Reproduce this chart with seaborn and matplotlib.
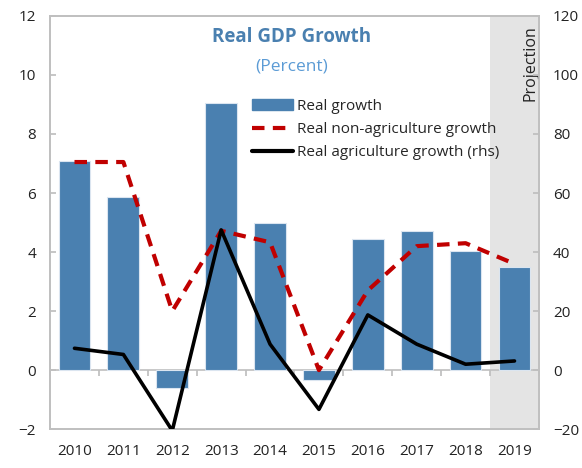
import numpy as np
import pandas as pd
import matplotlib
matplotlib.use("Agg")
import matplotlib.pyplot as plt
import seaborn as sns
from matplotlib.lines import Line2D
from matplotlib.patches import Patch

years = ["2010", "2011", "2012", "2013", "2014", "2015", "2016", "2017", "2018", "2019"]
real_growth = [7.1, 5.85, -0.6, 9.05, 5.0, -0.35, 4.45, 4.7, 4.03, 3.5]
non_agri_growth = [7.05, 7.05, 2.0, 4.72, 4.33, 0.0, 2.7, 4.2, 4.3, 3.6]
agri_growth_rhs = [7.4, 5.3, -20.5, 47.5, 8.8, -13.3, 18.7, 8.8, 2.0, 3.1]
projection_years = ["2019"]

BAR = "#4a80b0"
RED = "#c00000"
GRID = "#bfbfbf"
TITLE = "#4a80b0"

df = pd.DataFrame({
    "year": years,
    "pos": np.arange(len(years)),
    "real": real_growth,
    "nonagri": non_agri_growth,
    "agri": agri_growth_rhs,
})

sns.set_theme(style="white")
plt.rcParams["font.family"] = ["Open Sans", "DejaVu Sans"]

fig = plt.figure(figsize=(5.82, 4.68), dpi=100)
ax = fig.add_axes([0.086, 0.083, 0.84, 0.883])

# projection shading
first_proj = years.index(projection_years[0])
ax.axvspan(first_proj - 0.5, len(years) - 0.5, color="#e4e4e4", zorder=0, lw=0)
ax.text(len(years) - 0.68, 12 - 0.3, "Projection", rotation=90, ha="center", va="top",
        fontsize=11.5, color="#222222")

sns.barplot(data=df, x="pos", y="real", color=BAR, width=0.65, ax=ax,
            edgecolor="#dbe5f0", linewidth=0.8, saturation=1, zorder=2,
            native_scale=True)
ax.axhline(0, color=GRID, lw=1.2, zorder=1)

sns.lineplot(data=df, x="pos", y="nonagri", ax=ax, color=RED, lw=3,
             dashes=False, zorder=3)
ax.lines[-1].set_dashes((3, 2))

ax.set_xlim(-0.5, len(years) - 0.5)
ax.set_ylim(-2, 12)
ax.set_yticks(np.arange(-2, 13, 2))
ax.set_xticks(df["pos"])
ax.set_xticklabels(years)
ax.set_xlabel("")
ax.set_ylabel("")

ax2 = ax.twinx()
sns.lineplot(data=df, x="pos", y="agri", ax=ax2, color="black", lw=2.6, zorder=4)
ax2.set_ylim(-20, 120)
ax2.set_yticks(np.arange(-20, 121, 20))
ax2.set_ylabel("")
ax2.set_xlim(-0.5, len(years) - 0.5)

for a in (ax, ax2):
    for s in a.spines.values():
        s.set_color(GRID)
        s.set_linewidth(1.2)
    a.tick_params(axis="y", direction="in", length=4, color=GRID, labelsize=11,
                  labelcolor="#222222", pad=10)
ax.tick_params(axis="x", length=0, labelsize=11, labelcolor="#222222", pad=11)

# tick marks on the zero line between categories
sec = ax.secondary_xaxis(2 / 14)
sec.set_xticks(np.arange(len(years) + 1) - 0.5)
sec.tick_params(axis="x", direction="out", length=4, color=GRID, labelbottom=False)
sec.spines["bottom"].set_visible(False)

ax.text(0.495, 0.95, "Real GDP Growth", transform=ax.transAxes, ha="center", va="center",
        fontsize=13.5, fontweight="bold", color=TITLE)
ax.text(0.495, 0.878, "(Percent)", transform=ax.transAxes, ha="center", va="center",
        fontsize=12.5, color="#5b9bd5")

handles = [
    Patch(facecolor=BAR, edgecolor=BAR),
    Line2D([0], [0], color=RED, lw=3, dashes=(3, 2)),
    Line2D([0], [0], color="black", lw=3),
]
labels = ["Real growth", "Real non-agriculture growth", "Real agriculture growth (rhs)"]
ax2.legend(handles, labels, loc="upper left", bbox_to_anchor=(0.413, 0.80), frameon=False,
           fontsize=11, handlelength=2.7, handletextpad=0.25, labelspacing=0.55,
           borderaxespad=0, borderpad=0)

fig.savefig("out.png", dpi=100)
